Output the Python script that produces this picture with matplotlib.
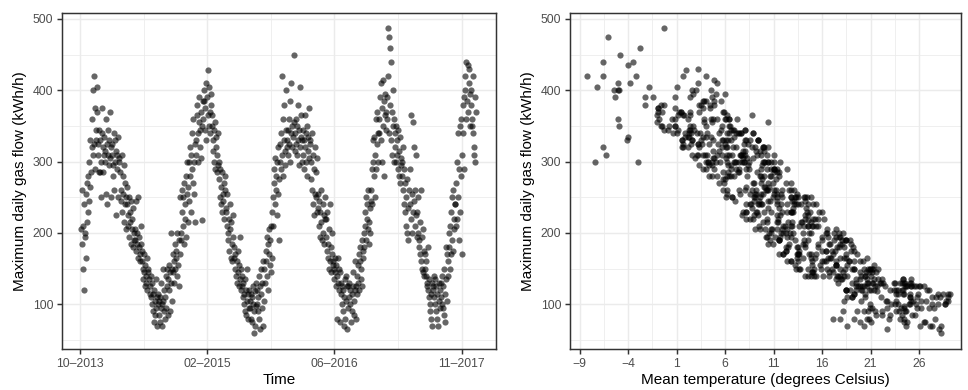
import numpy as np
import pandas as pd
import matplotlib
matplotlib.use('Agg')
import matplotlib.pyplot as plt
import matplotlib.dates as mdates

plt.rcParams['font.family'] = ['Liberation Sans', 'DejaVu Sans']

# maximum daily gas flow (kWh/h), one reading every 2nd day from 6 Oct 2013,
# one row of 15 readings is roughly one month
flow_rows = [
    [205, 260, 185, 150, 210, 120, 240, 200, 195, 255, 165, 215, 270, 230, 280],
    [245, 300, 330, 265, 285, 320, 360, 310, 400, 420, 325, 290, 375, 330, 345],
    [405, 370, 325, 310, 345, 285, 285, 330, 300, 250, 340, 375, 320, 285, 310],
    [335, 315, 300, 360, 255, 240, 325, 310, 345, 295, 330, 370, 305, 320, 250],
    [310, 325, 295, 280, 340, 260, 330, 300, 225, 315, 290, 310, 250, 335, 305],
    [300, 285, 260, 245, 310, 230, 280, 255, 295, 215, 270, 240, 205, 250, 265],
    [240, 225, 210, 250, 195, 230, 215, 185, 245, 205, 220, 180, 235, 200, 190],
    [205, 190, 245, 175, 185, 200, 165, 250, 180, 195, 170, 160, 210, 185, 175],
    [160, 150, 135, 170, 145, 125, 155, 140, 130, 165, 120, 145, 150, 135, 115],
    [125, 110, 140, 100, 130, 90, 115, 75, 120, 105, 85, 135, 95, 70, 110],
    [100, 115, 85, 105, 75, 110, 95, 130, 100, 70, 150, 105, 90, 120, 80],
    [110, 140, 95, 125, 150, 85, 135, 155, 120, 145, 90, 200, 130, 105, 150],
    [145, 170, 130, 160, 185, 150, 165, 175, 140, 200, 155, 190, 125, 170, 250],
    [200, 190, 230, 260, 210, 250, 185, 270, 220, 240, 280, 195, 300, 255, 215],
    [265, 300, 245, 320, 280, 230, 310, 290, 340, 270, 360, 255, 300, 325, 215],
    [330, 310, 365, 380, 340, 300, 355, 390, 320, 345, 370, 305, 218, 350, 385],
    [360, 385, 400, 345, 375, 410, 330, 390, 428, 365, 350, 405, 370, 340, 395],
    [380, 350, 365, 330, 315, 345, 300, 355, 290, 335, 320, 285, 310, 340, 295],
    [300, 275, 250, 290, 240, 265, 230, 285, 255, 245, 270, 220, 260, 280, 235],
    [230, 210, 255, 200, 190, 220, 175, 240, 205, 165, 215, 185, 160, 225, 195],
    [180, 165, 150, 170, 140, 160, 130, 175, 145, 125, 155, 135, 195, 150, 120],
    [140, 125, 110, 130, 100, 115, 90, 135, 120, 85, 105, 150, 80, 115, 95],
    [120, 105, 95, 115, 80, 110, 75, 100, 125, 60, 90, 118, 70, 130, 98],
    [100, 120, 90, 110, 140, 80, 125, 65, 115, 150, 95, 130, 70, 160, 105],
    [150, 130, 175, 160, 195, 140, 185, 120, 170, 205, 155, 190, 145, 210, 165],
    [230, 250, 210, 270, 290, 240, 305, 260, 280, 225, 300, 255, 320, 275, 190],
    [300, 325, 290, 340, 420, 310, 360, 280, 330, 380, 315, 295, 345, 400, 320],
    [330, 345, 310, 360, 325, 385, 300, 340, 410, 350, 320, 335, 449, 355, 315],
    [340, 325, 360, 310, 350, 380, 330, 295, 345, 405, 320, 335, 365, 300, 330],
    [345, 310, 330, 290, 365, 320, 340, 300, 350, 280, 335, 315, 375, 305, 325],
    [330, 300, 275, 340, 260, 310, 240, 290, 225, 320, 255, 285, 250, 305, 230],
    [255, 235, 210, 245, 195, 230, 260, 215, 190, 240, 200, 225, 185, 250, 220],
    [220, 195, 175, 230, 165, 185, 150, 205, 160, 240, 145, 180, 170, 200, 155],
    [160, 150, 135, 165, 145, 125, 155, 80, 140, 165, 130, 150, 120, 75, 145],
    [130, 115, 100, 125, 90, 120, 70, 110, 135, 80, 105, 140, 65, 125, 95],
    [125, 110, 130, 100, 120, 75, 115, 90, 125, 145, 105, 85, 160, 120, 80],
    [125, 140, 115, 155, 130, 170, 120, 160, 180, 135, 150, 190, 125, 165, 175],
    [180, 200, 230, 210, 250, 190, 220, 240, 205, 260, 215, 185, 235, 200, 245],
    [260, 290, 240, 300, 330, 280, 335, 250, 310, 360, 290, 370, 325, 340, 300],
    [340, 360, 390, 330, 410, 375, 300, 350, 415, 385, 280, 365, 395, 345, 370],
    [390, 360, 420, 487, 340, 475, 380, 460, 330, 440, 370, 310, 350, 400, 300],
    [360, 340, 320, 350, 300, 310, 330, 290, 345, 280, 315, 270, 335, 305, 295],
    [300, 280, 320, 260, 240, 290, 230, 270, 210, 250, 200, 275, 190, 235, 260],
    [240, 290, 220, 365, 255, 200, 355, 230, 320, 245, 210, 260, 225, 310, 195],
    [230, 200, 250, 190, 180, 215, 170, 260, 160, 195, 150, 205, 145, 175, 140],
    [170, 150, 140, 160, 130, 125, 180, 120, 110, 135, 100, 90, 115, 80, 70],
    [130, 125, 120, 110, 140, 100, 135, 90, 125, 80, 115, 70, 130, 105, 95],
    [120, 130, 110, 100, 140, 95, 125, 85, 150, 115, 75, 135, 180, 105, 170],
    [160, 140, 180, 200, 150, 210, 170, 230, 190, 250, 175, 260, 220, 205, 240],
    [240, 210, 270, 300, 220, 340, 250, 290, 190, 350, 230, 360, 280, 170, 310],
    [340, 380, 390, 290, 400, 420, 360, 440, 385, 435, 370, 410, 430, 350, 395],
    [400, 380, 360, 350, 340, 420, 320, 310, 300, 390, 370],
]

# mean temperature (degrees Celsius) on the same days
temp_rows = [
    [16.5, 7.4, 15.6, 13.6, 15.0, 20.0, 15.4, 10.5, 16.6, 8.6, 16.6, 9.9, 12.8, 10.7, 10.0],
    [9.0, 10.0, 1.6, 10.0, 7.4, 9.9, 0.8, 7.8, -5.1, 1.7, 5.3, 11.3, -0.9, 6.1, 2.8],
    [1.0, -0.9, 7.9, 11.0, 2.4, 9.3, 5.8, 8.2, 6.9, 6.7, 6.2, 0.8, 8.8, 6.3, 6.7],
    [2.2, 7.8, 7.1, 6.4, 6.2, 13.8, 6.0, 5.2, 8.1, 4.6, 6.3, 1.4, 8.9, 1.6, 14.2],
    [9.7, 3.2, 8.4, 4.6, 6.4, 9.2, 9.4, 4.0, 14.6, 4.8, 8.2, 3.7, 14.1, 3.7, 8.3],
    [5.5, 11.0, 6.2, 11.3, 5.7, 15.7, 6.4, 11.3, 3.3, 14.9, 8.9, 14.5, 10.7, 11.4, 8.2],
    [11.8, 9.0, 15.4, 14.9, 12.4, 12.8, 10.3, 17.8, 10.4, 9.6, 14.2, 14.2, 14.3, 11.8, 14.6],
    [10.8, 16.0, 10.6, 19.0, 10.9, 16.4, 16.8, 9.1, 19.2, 11.1, 17.1, 16.0, 15.1, 10.4, 19.3],
    [19.9, 15.2, 21.8, 12.0, 19.9, 21.5, 21.4, 15.2, 24.0, 14.9, 23.0, 15.1, 21.2, 19.9, 25.1],
    [20.3, 27.3, 14.9, 25.0, 20.6, 24.6, 20.4, 24.8, 18.5, 26.7, 22.2, 24.3, 20.9, 24.7, 22.1],
    [25.1, 19.3, 25.6, 29.0, 21.0, 25.1, 21.1, 24.5, 23.8, 18.6, 19.3, 22.7, 23.6, 20.8, 22.9],
    [20.4, 20.0, 24.1, 25.5, 13.7, 23.0, 21.4, 15.8, 26.8, 15.0, 23.9, 13.0, 23.5, 18.3, 21.3],
    [21.1, 13.6, 22.3, 12.8, 16.7, 17.0, 20.6, 12.3, 21.0, 12.3, 17.4, 11.6, 25.2, 14.9, 11.9],
    [12.0, 17.2, 8.2, 10.3, 12.2, 14.4, 12.6, 10.4, 8.2, 13.3, 8.3, 17.4, 4.6, 11.0, 11.5],
    [10.1, 4.2, 13.1, 10.4, 6.9, 12.8, 4.1, 11.0, 4.1, 5.4, 4.7, 9.1, 10.1, 3.6, 12.9],
    [2.6, 8.1, 2.4, 4.9, 0.6, 9.9, 3.8, 2.4, 10.0, 1.1, 3.3, 6.1, 14.6, -0.6, 4.9],
    [6.1, 5.6, 4.5, 0.1, 3.7, 3.2, 9.4, -2.3, 2.0, 1.1, 4.0, -7.2, 5.8, 3.4, 5.1],
    [-0.3, 6.5, -1.0, 5.7, 5.4, 8.0, 5.1, 4.6, 3.7, 6.9, 5.7, 11.6, 3.9, 5.4, 6.3],
    [7.9, 5.8, 12.8, 12.4, 9.5, 10.5, 9.3, 11.3, 9.7, 7.0, 10.9, 11.5, 12.6, 6.6, 11.6],
    [9.2, 14.6, 9.9, 17.2, 10.6, 15.1, 16.0, 9.8, 17.4, 13.4, 13.9, 14.0, 18.8, 7.7, 17.8],
    [18.3, 14.0, 18.4, 12.0, 20.4, 16.2, 25.2, 12.3, 20.5, 20.6, 17.4, 18.1, 17.7, 16.5, 24.2],
    [16.7, 24.8, 19.1, 22.0, 23.1, 28.0, 19.6, 22.2, 18.5, 25.3, 23.6, 20.9, 19.3, 24.5, 22.7],
    [23.4, 20.0, 27.0, 29.0, 20.6, 25.1, 19.9, 28.0, 21.7, 28.3, 24.7, 21.7, 27.1, 19.5, 24.4],
    [20.9, 24.3, 22.2, 28.2, 14.6, 24.0, 22.5, 22.7, 28.5, 14.6, 25.8, 20.7, 26.1, 12.4, 28.8],
    [20.7, 19.1, 16.4, 12.8, 16.0, 17.9, 19.0, 19.5, 18.5, 11.9, 17.4, 11.6, 21.6, 12.0, 17.8],
    [10.0, 13.2, 9.5, 9.7, 7.1, 15.1, 4.7, 11.0, 4.3, 14.2, 7.0, 13.4, 3.3, 9.8, 13.2],
    [7.9, 2.5, 10.3, 8.9, -3.2, 7.6, 0.5, 11.6, 4.8, -2.3, 8.0, 6.6, 6.9, 2.6, 6.1],
    [2.6, 5.6, 6.4, 6.4, 1.7, 3.8, 7.7, 3.1, 5.2, 0.8, 7.1, 4.0, -4.8, -1.0, 10.0],
    [7.6, 3.2, 3.8, 2.6, 5.7, 3.5, 9.4, 4.3, 6.6, -1.8, 6.2, 1.9, 6.2, 6.2, 6.6],
    [2.3, 9.3, 1.6, 8.5, 1.7, 9.9, 2.3, 8.5, -0.5, 10.7, 4.5, 9.6, -0.9, 7.8, 4.3],
    [5.8, 4.2, 11.2, 8.9, 8.1, 7.6, 8.7, 11.0, 11.7, 2.2, 11.8, 7.3, 13.3, 4.9, 11.9],
    [7.5, 13.0, 12.9, 14.2, 10.2, 14.4, 10.2, 11.4, 18.5, 8.2, 14.9, 11.3, 16.8, 6.1, 16.2],
    [15.6, 11.7, 16.4, 7.8, 18.3, 14.2, 21.8, 10.1, 19.3, 9.7, 18.2, 12.3, 19.6, 12.7, 18.6],
    [15.0, 20.3, 17.4, 16.9, 17.1, 26.0, 15.0, 24.4, 14.2, 18.5, 21.2, 20.9, 20.1, 24.4, 16.7],
    [22.1, 19.3, 27.3, 26.5, 20.3, 23.8, 20.3, 27.7, 20.6, 17.9, 26.2, 17.5, 28.1, 20.1, 24.5],
    [19.5, 25.8, 21.3, 28.7, 18.9, 26.6, 23.8, 20.7, 26.1, 15.0, 25.4, 21.6, 18.8, 18.5, 27.6],
    [25.2, 16.1, 24.3, 13.2, 23.4, 15.4, 27.0, 13.5, 17.7, 19.5, 17.8, 11.6, 25.7, 15.3, 17.0],
    [13.4, 16.5, 8.2, 13.6, 9.6, 18.4, 10.3, 12.4, 9.1, 11.9, 12.5, 18.1, 8.8, 14.7, 9.5],
    [10.4, 4.9, 13.5, 11.7, 3.5, 9.6, 2.3, 13.5, 6.2, -0.8, 9.7, 1.2, 8.4, 2.5, 7.4],
    [1.9, 4.5, 0.8, 8.6, -5.1, 4.4, -7.4, 2.4, 4.9, 4.0, 9.7, 1.8, 2.7, -0.3, 5.9],
    [-1.4, 5.2, -6.6, -0.3, 7.4, -6.1, -0.6, -2.8, 8.0, -3.5, 1.5, -6.3, 6.4, -5.5, -3.0],
    [-5.0, 7.3, -6.6, 0.2, 10.4, 3.1, -4.1, 11.0, 6.8, 5.2, 9.2, 12.3, -4.0, 2.9, 9.8],
    [10.4, 6.2, 6.8, 5.8, 13.1, 7.4, 16.0, 5.9, 15.6, 9.0, 14.0, 6.0, 18.1, 10.4, 11.2],
    [9.4, 10.7, 8.9, 8.8, 9.2, 17.7, 10.4, 13.0, 1.7, 12.9, 12.8, 13.1, 9.4, 7.5, 12.8],
    [12.4, 10.7, 12.8, 18.9, 13.5, 13.8, 13.5, 12.8, 16.4, 10.3, 19.3, 12.4, 20.8, 13.6, 18.6],
    [13.4, 19.1, 18.3, 20.2, 17.6, 24.7, 15.6, 21.4, 29.0, 18.0, 25.7, 21.5, 25.9, 17.1, 28.3],
    [24.6, 19.7, 23.6, 18.6, 20.4, 23.5, 25.2, 18.2, 24.6, 20.8, 23.6, 27.3, 25.1, 22.6, 26.2],
    [21.0, 24.2, 19.1, 28.7, 17.6, 27.5, 19.9, 24.2, 13.3, 29.2, 26.5, 24.3, 12.5, 25.2, 14.7],
    [17.4, 15.4, 17.5, 18.2, 15.9, 14.1, 13.5, 14.8, 14.1, 6.7, 17.3, 8.8, 15.3, 11.4, 11.3],
    [8.6, 14.6, 9.0, 10.7, 8.6, 7.1, 10.9, 6.6, 18.5, 0.8, 12.9, 2.2, 10.6, 11.6, 10.3],
    [7.6, 3.3, 4.6, 4.0, 3.0, 4.0, 7.2, -6.6, 3.7, -4.0, 2.4, -3.8, 3.2, 2.7, 6.0],
    [-4.9, 4.4, 6.0, -4.9, 1.0, -8.2, 9.1, 3.2, 11.0, -5.4, -0.5],
]

for i, (f, t) in enumerate(zip(flow_rows, temp_rows)):
    if len(f) != len(t):
        print('row', i, 'lengths differ', len(f), len(t))

flow = np.array([v for r in flow_rows for v in r], dtype=float)
temp = np.array([v for r in temp_rows for v in r], dtype=float)
n = min(len(flow), len(temp))
flow, temp = flow[:n], temp[:n]
days = pd.date_range('2013-10-06', periods=n, freq='2D')

date_ticks = pd.to_datetime(['2013-10-01', '2015-02-13', '2016-06-27', '2017-11-09'])
temp_ticks = [-9, -4, 1, 6, 11, 16, 21, 26]
flow_ticks = [100, 200, 300, 400, 500]

grid_col = '#EBEBEB'
edge_col = '#333333'
lab_col = '#4D4D4D'

fig = plt.figure(figsize=(9.68, 3.9), dpi=100)
ax1 = fig.add_axes([62/968, 41/390, 434/968, 336/390])
ax2 = fig.add_axes([570/968, 41/390, 391/968, 336/390])


def style(ax):
    ax.set_facecolor('white')
    ax.set_axisbelow(True)
    ax.grid(which='major', color=grid_col, lw=1.07)
    ax.grid(which='minor', color=grid_col, lw=0.55)
    for s in ax.spines.values():
        s.set_color(edge_col)
        s.set_linewidth(1.07)
    ax.tick_params(which='major', length=3.8, width=1.07, color=edge_col,
                   labelsize=8.8, labelcolor=lab_col, pad=2.5)
    ax.tick_params(which='minor', length=0)
    ax.set_yticks(flow_ticks)
    ax.set_yticks([50, 150, 250, 350, 450], minor=True)
    ax.set_ylim(37.3, 508.4)
    ax.set_ylabel('Maximum daily gas flow (kWh/h)', fontsize=11, labelpad=4)


# left: gas flow over time
ax1.scatter(days, flow, s=20, color='black', alpha=0.6, linewidths=0)
style(ax1)
d0 = mdates.date2num(date_ticks[0])
ax1.set_xlim(d0 - 71, d0 + 1635)
ax1.set_xticks(date_ticks)
dn = mdates.date2num(date_ticks)
ax1.set_xticks((dn[:-1] + dn[1:]) / 2, minor=True)
ax1.xaxis.set_major_formatter(mdates.DateFormatter('%m\u2013%Y'))
ax1.set_xlabel('Time', fontsize=11, labelpad=2)

# right: gas flow against temperature
ax2.scatter(temp, flow, s=20, color='black', alpha=0.6, linewidths=0)
style(ax2)
ax2.set_xlim(-10.0, 30.33)
ax2.set_xticks(temp_ticks)
ax2.set_xticklabels([str(t).replace('-', '\u2212') for t in temp_ticks])
ax2.set_xticks(np.array(temp_ticks[:-1]) + 2.5, minor=True)
ax2.set_xlabel('Mean temperature (degrees Celsius)', fontsize=11, labelpad=2)

fig.savefig('out.png', dpi=100, facecolor='white')
